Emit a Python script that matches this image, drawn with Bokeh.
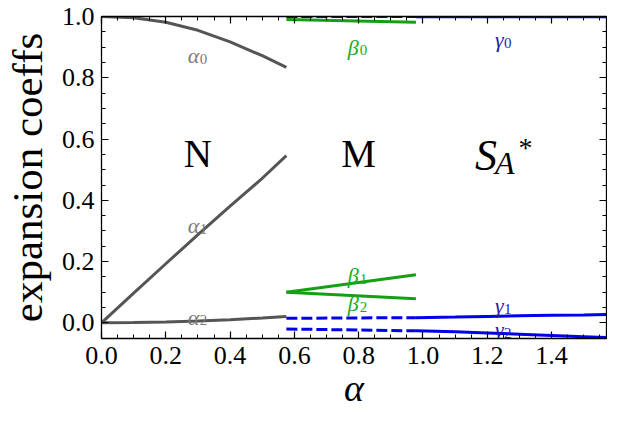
from bokeh.plotting import figure
from bokeh.models import Range1d, LinearAxis, SingleIntervalTicker, CustomJSTickFormatter, PrintfTickFormatter, ColumnDataSource
from bokeh.core.properties import value
from bokeh.embed import file_html
from bokeh.resources import INLINE

# ---- data ----
x_N = [0.0, 0.1, 0.2, 0.3, 0.4, 0.5, 0.575]
alpha0 = [1.0, 0.996, 0.981, 0.955, 0.917, 0.872, 0.834]
alpha1 = [0.0, 0.097, 0.193, 0.288, 0.381, 0.472, 0.546]
alpha2 = [0.0, 0.001, 0.003, 0.006, 0.010, 0.016, 0.021]

x_M = [0.575, 0.978]
beta0 = [0.990, 0.981]
beta1 = [0.100, 0.157]
beta2 = [0.100, 0.079]
gamma0_M = [1.0, 1.0]
gamma1_M = [0.015, 0.017]
gamma2_M = [-0.020, -0.026]

x_S = [0.978, 1.1, 1.2, 1.3, 1.4, 1.5, 1.5708]
gamma0 = [0.999, 0.999, 0.999, 0.999, 0.999, 0.999, 0.999]
gamma1 = [0.017, 0.019, 0.021, 0.023, 0.025, 0.026, 0.027]
gamma2 = [-0.026, -0.029, -0.033, -0.037, -0.041, -0.045, -0.048]

# curve labels: symbol, subscript, anchor
alpha_lab = ["α", "α", "α"]
alpha_sub = ["0", "1", "2"]
alpha_lx = [0.268, 0.268, 0.268]
alpha_ly = [0.872, 0.317, 0.018]
beta_lab = ["β", "β", "β"]
beta_sub = ["0", "1", "2"]
beta_lx = [0.766, 0.766, 0.766]
beta_ly = [0.899, 0.154, 0.062]
gamma_lab = ["γ", "γ", "γ"]
gamma_sub = ["0", "1", "2"]
gamma_lx = [1.224, 1.224, 1.224]
gamma_ly = [0.924, 0.056, -0.022]

region_names = ["N", "M"]
region_x = [0.30, 0.80]
region_y = [0.552, 0.552]

GRAY = "#555555"
GREEN = "#14a014"
BLUE = "#0000ee"
SERIF = "Liberation Serif"
AXFONT = "Liberation Serif, serif"

p = figure(width=607, height=419, x_range=Range1d(0, 1.5708), y_range=Range1d(-0.051, 1.0),
           output_backend="svg", toolbar_location=None,
           min_border_left=100, min_border_right=1, min_border_top=16, min_border_bottom=81)
p.grid.visible = False
p.outline_line_color = "black"
p.background_fill_color = "white"
p.border_fill_color = "white"

xb = p.below[0]
yl = p.left[0]
xt = LinearAxis()
yr = LinearAxis()
p.add_layout(xt, "above")
p.add_layout(yr, "right")

for ax in (xb, yl, xt, yr):
    ax.ticker = SingleIntervalTicker(interval=0.2, num_minor_ticks=4)
    ax.major_tick_in = 7
    ax.major_tick_out = 0
    ax.minor_tick_in = 4
    ax.minor_tick_out = 0
    ax.axis_line_color = "black"
    ax.axis_line_width = 1.3
    ax.major_tick_line_width = 1.2
    ax.minor_tick_line_width = 1.0
    ax.major_label_text_font = AXFONT
    ax.major_label_text_font_size = "26px"
    ax.major_label_text_color = "black"
    ax.major_label_text_font_style = "normal"

for ax in (xt, yr):
    ax.formatter = CustomJSTickFormatter(code="return ''")
    ax.major_label_standoff = 0
    ax.major_label_text_font_size = "1px"

for ax in (xb, yl):
    ax.formatter = PrintfTickFormatter(format="%.1f")

xb.major_label_standoff = 8
yl.major_label_standoff = 7
yl.axis_label = "expansion coeffs"
yl.axis_label_text_font = AXFONT
yl.axis_label_text_font_style = "normal"
yl.axis_label_text_font_size = "43px"
yl.axis_label_text_color = "black"
yl.axis_label_standoff = 8
xb.axis_label = "α"
xb.axis_label_text_font = AXFONT
xb.axis_label_text_font_style = "italic"
xb.axis_label_text_font_size = "38px"
xb.axis_label_text_color = "black"
xb.axis_label_standoff = 0

# ---- curves ----
for ys in (alpha0, alpha1, alpha2):
    p.line(x_N, ys, line_color=GRAY, line_width=3)
for ys in (beta0, beta1, beta2):
    p.line(x_M, ys, line_color=GREEN, line_width=3)
for ys in (gamma0_M, gamma1_M, gamma2_M):
    p.line(x_M, ys, line_color=BLUE, line_width=3, line_dash="11 4")
for ys in (gamma0, gamma1, gamma2):
    p.line(x_S, ys, line_color=BLUE, line_width=3)

# ---- curve labels ----
def curve_labels(lab, sub, lx, ly, color, sub_dx):
    src = ColumnDataSource(dict(x=lx, y=ly, t=lab, s=sub))
    p.text(x="x", y="y", text="t", source=src, text_font=value(SERIF),
           text_font_style="italic", text_font_size="22px", text_color=color,
           text_align="left", text_baseline="alphabetic")
    p.text(x="x", y="y", text="s", source=src, text_font=value(SERIF),
           text_font_size="15px", text_color=color, x_offset=sub_dx, y_offset=3,
           text_align="left", text_baseline="alphabetic")

curve_labels(alpha_lab, alpha_sub, alpha_lx, alpha_ly, "#7a7a7a", 12)
curve_labels(beta_lab, beta_sub, beta_lx, beta_ly, "#22aa22", 12)
curve_labels(gamma_lab, gamma_sub, gamma_lx, gamma_ly, "#2222aa", 9)

# ---- region labels ----
p.text(x=region_x, y=region_y, text=region_names, text_font=value(SERIF),
       text_font_size="39px", text_color="black", text_align="center", text_baseline="alphabetic")
p.text(x=[1.196], y=[0.546], text=["S"], text_font=value(SERIF), text_font_style="italic",
       text_font_size="44px", text_color="black", text_align="center", text_baseline="alphabetic")
p.text(x=[1.224], y=[0.523], text=["A"], text_font=value(SERIF), text_font_style="italic",
       text_font_size="32px", text_color="black", text_align="left", text_baseline="alphabetic")
p.text(x=[1.297], y=[0.573], text=["*"], text_font=value(SERIF),
       text_font_size="28px", text_color="black", text_align="left", text_baseline="alphabetic")

open("out.html", "w").write(file_html(p, INLINE))
